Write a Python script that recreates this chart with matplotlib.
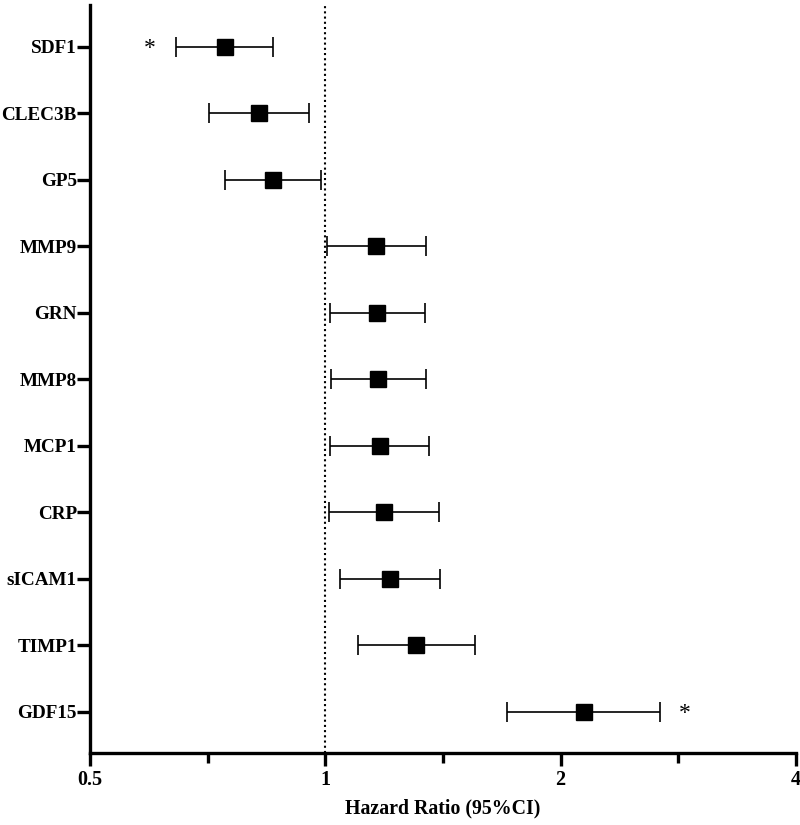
import matplotlib
matplotlib.use("Agg")
import matplotlib.pyplot as plt
import matplotlib.ticker as mticker
import numpy as np

markers_names = ["SDF1", "CLEC3B", "GP5", "MMP9", "GRN", "MMP8", "MCP1", "CRP", "sICAM1", "TIMP1", "GDF15"]
hr = [0.744, 0.823, 0.857, 1.162, 1.164, 1.168, 1.173, 1.188, 1.210, 1.306, 2.141]
ci_low = [0.644, 0.710, 0.744, 1.004, 1.014, 1.016, 1.014, 1.010, 1.044, 1.101, 1.709]
ci_high = [0.857, 0.953, 0.987, 1.345, 1.340, 1.345, 1.357, 1.397, 1.402, 1.554, 2.681]
star_rows = ["SDF1", "GDF15"]
star_x = [0.597, 2.886]
x_ticks = [0.5, 1, 2, 4]
x_tick_labels = ["0.5", "1", "2", "4"]
x_minor = [0.7071, 1.4142, 2.8284]

plt.rcParams['font.family'] = ['Liberation Serif', 'DejaVu Serif']

fig = plt.figure(figsize=(8, 8.25), dpi=100)
ax = fig.add_axes([0.1125, 0.087, 0.8825, 0.907])

y = np.arange(len(markers_names))
hr_a = np.array(hr)
lo = hr_a - np.array(ci_low)
hi = np.array(ci_high) - hr_a
ax.errorbar(hr_a, y, xerr=[lo, hi], fmt='none', ecolor='black', elinewidth=1.2,
            capsize=7, capthick=1.2, zorder=2)
ax.plot(hr_a, y, linestyle='none', marker='s', markersize=11, color='black', zorder=3)

ax.axvline(1, color='black', linestyle=(0, (1, 1.5)), linewidth=1.5, zorder=1)

for name, sx in zip(star_rows, star_x):
    yi = markers_names.index(name)
    ax.text(sx, yi + 0.02, "*", ha='center', va='center', fontsize=17, color='black')

ax.set_xscale('log', base=2)
ax.set_xlim(0.5, 4)
ax.xaxis.set_major_locator(mticker.FixedLocator(x_ticks))
ax.xaxis.set_major_formatter(mticker.FixedFormatter(x_tick_labels))
ax.xaxis.set_minor_locator(mticker.FixedLocator(x_minor))
ax.xaxis.set_minor_formatter(mticker.NullFormatter())

ax.set_ylim(len(markers_names) - 1 + 0.62, -0.63)
ax.set_yticks(y)
ax.set_yticklabels(markers_names)

for s in ['top', 'right']:
    ax.spines[s].set_visible(False)
for s in ['left', 'bottom']:
    ax.spines[s].set_linewidth(2.4)

ax.tick_params(axis='x', which='major', length=9, width=2.4, labelsize=14.5, pad=3)
ax.tick_params(axis='y', which='major', length=9.5, width=2.4, labelsize=13.8, pad=0)
ax.tick_params(axis='x', which='minor', length=7, width=2.4)
for lab in ax.get_xticklabels() + ax.get_yticklabels():
    lab.set_fontweight('bold')

ax.set_xlabel("Hazard Ratio (95%CI)", fontsize=14.3, fontweight='bold', labelpad=6)

fig.savefig("out.png", dpi=100)
